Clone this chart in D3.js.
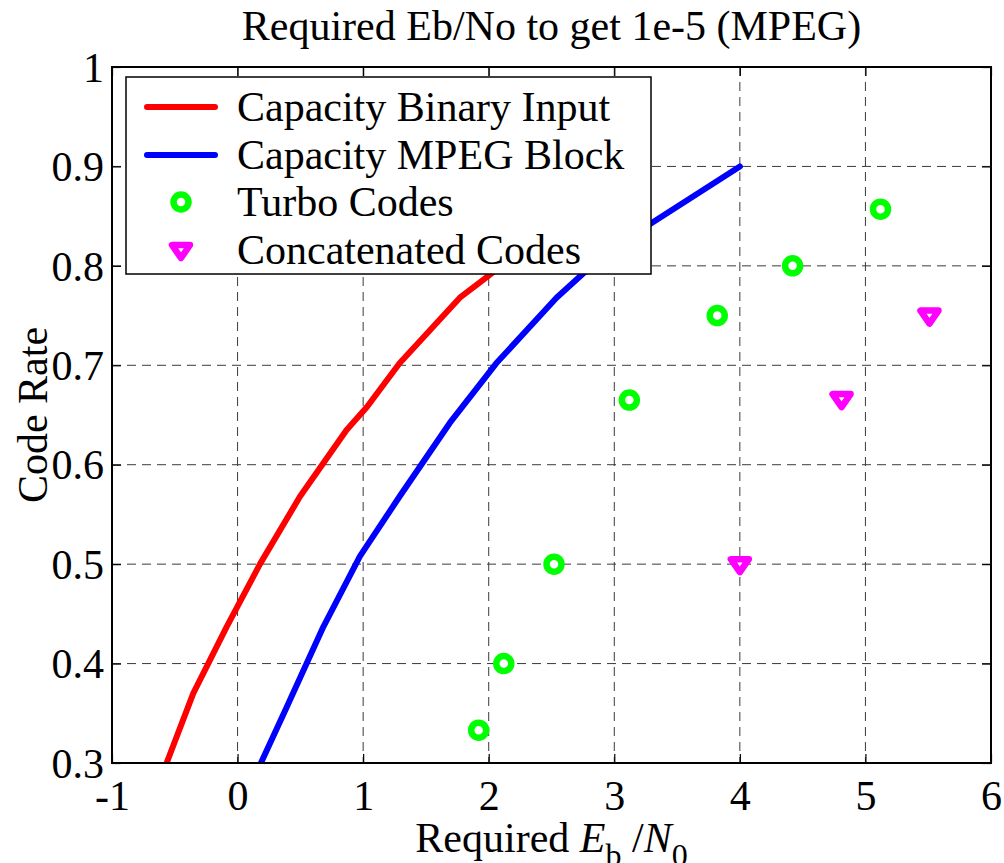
<!DOCTYPE html>
<html><head><meta charset="utf-8">
<script src="https://cdn.jsdelivr.net/npm/d3@7"></script>
<style>
body{margin:0;background:#fff}
text{font-family:"Liberation Serif","Times New Roman",serif;fill:#000}
</style>
</head><body>
<svg id="c" width="1004" height="863"></svg>
<script>
// ---- data ----
const xTicks = [-1, 0, 1, 2, 3, 4, 5, 6];
const yTicks = [0.3, 0.4, 0.5, 0.6, 0.7, 0.8, 0.9, 1];
const yTickLabels = ["0.3", "0.4", "0.5", "0.6", "0.7", "0.8", "0.9", "1"];
const binaryX = [-0.565, -0.353, -0.087, 0.178, 0.497, 0.868, 1.03, 1.29, 1.77, 1.956, 2.1, 2.9];
const binaryY = [0.3, 0.37, 0.437, 0.5, 0.568, 0.635, 0.658, 0.702, 0.768, 0.786, 0.8, 0.9];
const mpegX = [0.186, 0.391, 0.683, 0.975, 1.29, 1.69, 2.06, 2.54, 2.95, 4.0];
const mpegY = [0.3, 0.356, 0.437, 0.508, 0.568, 0.642, 0.702, 0.768, 0.815, 0.9];
const turboX = [1.92, 2.12, 2.52, 3.12, 3.82, 4.42, 5.12];
const turboY = [0.333, 0.4, 0.5, 0.665, 0.75, 0.8, 0.857];
const concatX = [4.0, 4.81, 5.51];
const concatY = [0.5, 0.666, 0.75];
const legendLabels = ["Capacity Binary Input", "Capacity MPEG Block", "Turbo Codes", "Concatenated Codes"];

// ---- layout ----
const L = 112, R = 991, T = 67, B = 763;
const svg = d3.select("#c");
const x = d3.scaleLinear().domain([-1, 6]).range([L, R]);
const y = d3.scaleLinear().domain([0.3, 1]).range([B, T]);
const FS = 42;

// grid
const g = svg.append("g");
g.selectAll(".gx").data(xTicks.slice(1, -1)).join("line")
  .attr("x1", d => x(d)).attr("x2", d => x(d)).attr("y1", T).attr("y2", B)
  .attr("stroke", "#3a3a3a").attr("stroke-width", 1).attr("stroke-dasharray", "9,6");
g.selectAll(".gy").data(yTicks.slice(1, -1)).join("line")
  .attr("y1", d => y(d)).attr("y2", d => y(d)).attr("x1", L).attr("x2", R)
  .attr("stroke", "#3a3a3a").attr("stroke-width", 1).attr("stroke-dasharray", "9,6");

// axes with inner ticks
const tl = 9;
const axB = d3.axisBottom(x).tickValues(xTicks).tickSize(-tl).tickFormat(d => d);
const axT = d3.axisTop(x).tickValues(xTicks).tickSize(-tl).tickFormat("");
const axLf = d3.axisLeft(y).tickValues(yTicks).tickSize(-tl).tickFormat((d, i) => yTickLabels[i]);
const axRt = d3.axisRight(y).tickValues(yTicks).tickSize(-tl).tickFormat("");
function styleAxis(sel) {
  sel.select(".domain").remove();
  sel.selectAll("line").attr("stroke", "#000").attr("stroke-width", 1.2);
  sel.selectAll("text").style("font-size", FS + "px").style("font-family", '"Liberation Serif","Times New Roman",serif').attr("fill", "#000");
}
svg.append("g").attr("transform", `translate(0,${B})`).call(axB).call(styleAxis)
  .selectAll("text").attr("y", 17).attr("dy", "0.71em");
svg.append("g").attr("transform", `translate(0,${T})`).call(axT).call(styleAxis);
svg.append("g").attr("transform", `translate(${L},0)`).call(axLf).call(styleAxis)
  .selectAll("text").attr("x", -8).attr("dy", "0.34em");
svg.append("g").attr("transform", `translate(${R},0)`).call(axRt).call(styleAxis);

// lines
const line = d3.line().x(d => x(d[0])).y(d => y(d[1]));
const binary = binaryX.map((v, i) => [v, binaryY[i]]);
const mpeg = mpegX.map((v, i) => [v, mpegY[i]]);
svg.append("defs").append("clipPath").attr("id", "clip").append("rect")
  .attr("x", L).attr("y", T).attr("width", R - L).attr("height", B - T);
const plot = svg.append("g").attr("clip-path", "url(#clip)");
plot.append("path").attr("d", line(binary)).attr("fill", "none").attr("stroke", "#ff0000")
  .attr("stroke-width", 6).attr("stroke-linejoin", "round").attr("stroke-linecap", "round");
plot.append("path").attr("d", line(mpeg)).attr("fill", "none").attr("stroke", "#0000ff")
  .attr("stroke-width", 6).attr("stroke-linejoin", "round").attr("stroke-linecap", "round");

// markers
const tri = "M-9,-5 L9,-5 L0,8 Z";
svg.selectAll(".turbo").data(turboX.map((v, i) => [v, turboY[i]])).join("circle")
  .attr("cx", d => x(d[0])).attr("cy", d => y(d[1])).attr("r", 7.5)
  .attr("fill", "#fff").attr("stroke", "#00ff00").attr("stroke-width", 6.5);
svg.selectAll(".concat").data(concatX.map((v, i) => [v, concatY[i]])).join("path")
  .attr("transform", d => `translate(${x(d[0])},${y(d[1])})`)
  .attr("d", tri).attr("fill", "#fff").attr("stroke", "#ff00ff").attr("stroke-width", 6.5)
  .attr("stroke-linejoin", "round");

// box
svg.append("rect").attr("x", L).attr("y", T).attr("width", R - L).attr("height", B - T)
  .attr("fill", "none").attr("stroke", "#000").attr("stroke-width", 2);

// legend
const lg = svg.append("g");
lg.append("rect").attr("x", 126).attr("y", 77).attr("width", 525).attr("height", 197)
  .attr("fill", "#fff").attr("stroke", "#000").attr("stroke-width", 1.5);
const rowY = [107, 155, 202, 250];
lg.append("line").attr("x1", 147).attr("x2", 215).attr("y1", rowY[0]).attr("y2", rowY[0])
  .attr("stroke", "#ff0000").attr("stroke-width", 6).attr("stroke-linecap", "round");
lg.append("line").attr("x1", 147).attr("x2", 215).attr("y1", rowY[1]).attr("y2", rowY[1])
  .attr("stroke", "#0000ff").attr("stroke-width", 6).attr("stroke-linecap", "round");
lg.append("circle").attr("cx", 181).attr("cy", rowY[2]).attr("r", 7.5)
  .attr("fill", "#fff").attr("stroke", "#00ff00").attr("stroke-width", 6.5);
lg.append("path").attr("transform", `translate(181,${rowY[3]})`).attr("d", tri)
  .attr("fill", "#fff").attr("stroke", "#ff00ff").attr("stroke-width", 6.5).attr("stroke-linejoin", "round");
lg.selectAll(".lt").data(legendLabels).join("text")
  .attr("x", 237).attr("y", (d, i) => rowY[i]).attr("dy", "0.34em")
  .style("font-size", FS + "px").text(d => d);

// title
svg.append("text").attr("x", (L + R) / 2).attr("y", 40).attr("text-anchor", "middle")
  .style("font-size", FS + "px").text("Required Eb/No to get 1e-5 (MPEG)");

// y label
svg.append("text").attr("transform", `translate(47,${(T + B) / 2}) rotate(-90)`)
  .attr("text-anchor", "middle").style("font-size", FS + "px").text("Code Rate");

// x label
const xl = svg.append("text").attr("x", (L + R) / 2).attr("y", 852).attr("text-anchor", "middle")
  .style("font-size", FS + "px");
xl.append("tspan").text("Required ");
xl.append("tspan").style("font-style", "italic").text("E");
xl.append("tspan").attr("dy", 14).style("font-size", "32px").text("b");
xl.append("tspan").attr("dy", -14).text(" /");
xl.append("tspan").style("font-style", "italic").text("N");
xl.append("tspan").attr("dy", 14).style("font-size", "32px").text("0");
</script>
</body></html>
